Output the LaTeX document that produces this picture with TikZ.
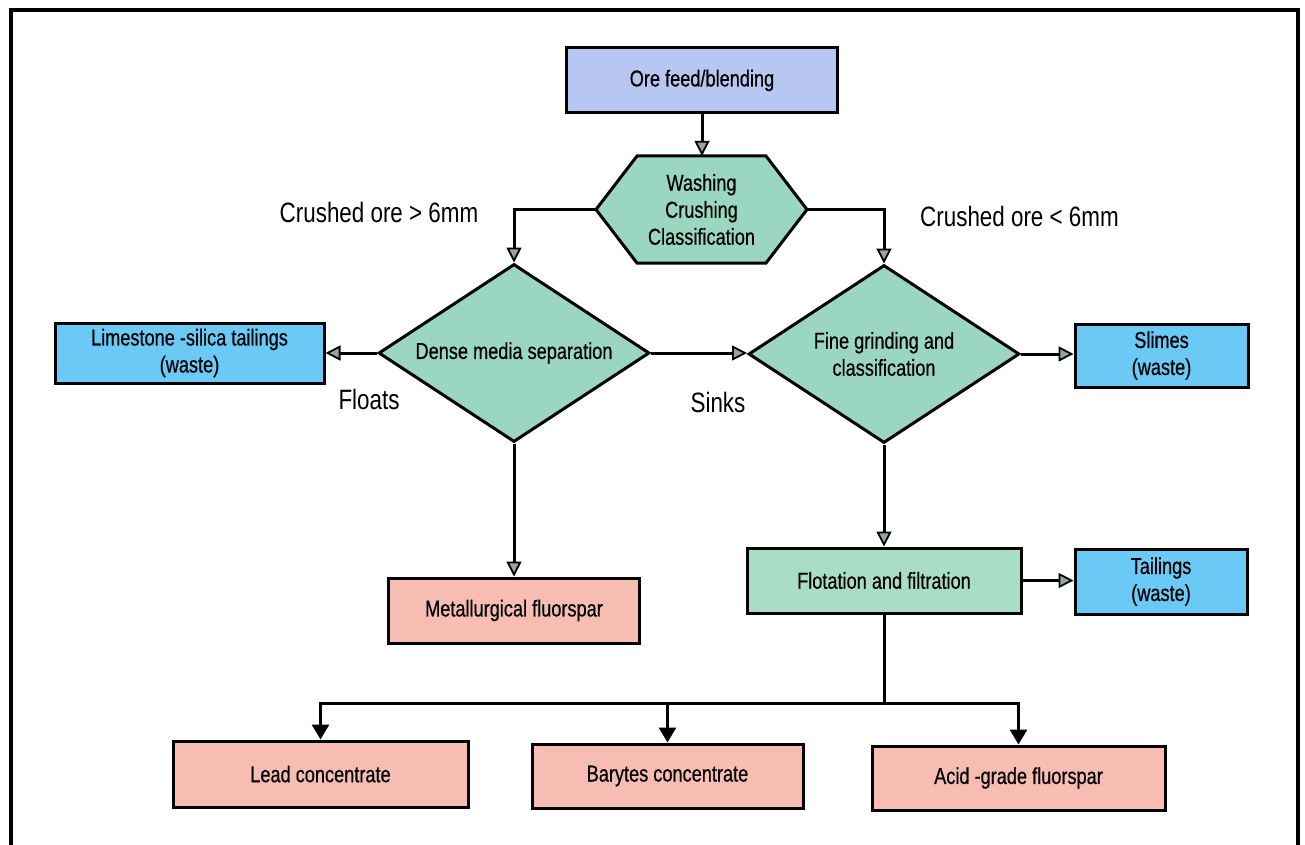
\documentclass[tikz,border=0pt]{standalone}
\usepackage{fontspec}
\setmainfont{Liberation Sans}[FakeStretch=0.79,FakeBold=0.5]
\newfontfamily\lblfont{Liberation Sans}[FakeStretch=0.8]
\usetikzlibrary{arrows.meta,shapes.geometric,calc}
\definecolor{lav}{HTML}{B7C7F2}
\definecolor{wasteblue}{HTML}{6BC9F6}
\definecolor{procgreen}{HTML}{9AD6C0}
\definecolor{flotgreen}{HTML}{A9DDC6}
\definecolor{prodpink}{HTML}{F7BDB3}
\definecolor{tipgray}{HTML}{8FA8A2}
\begin{document}
\begin{tikzpicture}[x=1pt,y=-1pt,
  every node/.style={inner sep=0pt},
  boxtxt/.style={font=\fontsize{23}{27}\selectfont, align=center},
  procbox/.style={boxtxt, draw=black, line width=3pt, rectangle},
  decbox/.style={boxtxt, draw=black, line width=3pt, diamond, aspect=1.52, fill=procgreen,
    minimum width=271pt, minimum height=178pt},
  lbl/.style={font=\lblfont\fontsize{28}{32}\selectfont},
  conn/.style={line width=3pt, draw=black},
  arrU/.style={conn, -{Triangle[length=15pt,width=15pt,fill=tipgray,line width=1.8pt]}},
  arrD/.style={conn, -{Triangle[length=15pt,width=17pt,fill=black]}}
]
\useasboundingbox (0,0) rectangle (1305,845);
% outer frame
\draw[line width=3.2pt] (11,860) -- (11,10) -- (1298,10) -- (1298,860);

% hexagon shape (drawn directly)
\filldraw[fill=procgreen, draw=black, line width=3pt, line join=miter]
  (596,209.5) -- (637,156) -- (766,156) -- (807,209.5) -- (766,263) -- (637,263) -- cycle;

% nodes
\node[procbox, fill=lav, minimum width=271pt, minimum height=65pt] (ore) at (702,80.5) {Ore feed/blending};
\node[boxtxt, minimum width=211pt, minimum height=107pt] (hex) at (701.5,209.5) {Washing\\Crushing\\Classification};
\node[decbox] (dms) at (514,353) {Dense media separation};
\node[decbox] (fine) at (884,354) {Fine grinding and\\classification};
\node[procbox, fill=wasteblue, minimum width=269pt, minimum height=60pt] (lime) at (189.5,353) {Limestone -silica tailings\\(waste)};
\node[procbox, fill=wasteblue, minimum width=173pt, minimum height=63pt] (slimes) at (1161.5,355.5) {Slimes\\(waste)};
\node[procbox, fill=prodpink, minimum width=251pt, minimum height=65pt] (met) at (514,610.5) {Metallurgical fluorspar};
\node[procbox, fill=flotgreen, minimum width=274pt, minimum height=65pt] (flot) at (884,580.5) {Flotation and filtration};
\node[procbox, fill=wasteblue, minimum width=172pt, minimum height=65pt] (tail) at (1161,581.5) {Tailings\\(waste)};
\node[procbox, fill=prodpink, minimum width=295pt, minimum height=66pt] (lead) at (320.5,774) {Lead concentrate};
\node[procbox, fill=prodpink, minimum width=271pt, minimum height=64pt] (bary) at (667.5,776) {Barytes concentrate};
\node[procbox, fill=prodpink, minimum width=293pt, minimum height=64pt] (acid) at (1018.5,778) {Acid -grade fluorspar};

% labels
\node[lbl] (lgt) at (379,212) {Crushed ore > 6mm};
\node[lbl] (llt) at (1019.5,216) {Crushed ore < 6mm};
\node[lbl] (lfl) at (369,399) {Floats};
\node[lbl] (lsk) at (718,402) {Sinks};

% connectors
\draw[arrU] (ore.south) -- (ore.south |- hex.north);
\draw[arrU] (hex.west) -| (dms.north);
\draw[arrU] (hex.east) -| (fine.north);
\draw[arrU] (dms.west) -- (lime.east);
\draw[arrU] (dms.east) -- (dms.east -| fine.west);
\draw[arrU] (fine.east) -- (fine.east -| slimes.west);
\draw[arrU] (dms.south) -- (met.north);
\draw[arrU] (fine.south) -- (flot.north);
\draw[arrU] (flot.east) -- (flot.east -| tail.west);
\coordinate (split) at (884,703);
\draw[conn] (flot.south) -- (split);
\draw[arrD] (split) -| (lead.north);
\draw[arrD] (split) -| (bary.north);
\draw[arrD] (split) -| (acid.north);
\end{tikzpicture}
\end{document}
